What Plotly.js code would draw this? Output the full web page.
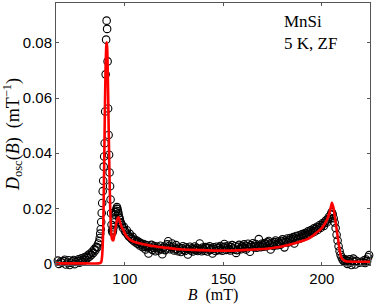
<!DOCTYPE html>
<html><head><meta charset="utf-8">
<script src="https://cdn.plot.ly/plotly-3.0.1.min.js"></script>
<style>html,body{margin:0;padding:0;background:#fff}#chart{width:374px;height:304px}</style>
</head><body><div id="chart"></div>
<script>
// Measured field B (mT)
const dataB = [
65,65.5,66,66.5,67,67.5,68,68.5,69,69.5,70,70.5,71,71.5,72,72.5,73,73.5,74,74.5,75,75.5,76,76.5,77,77.5,78,78.5,79,79.5,
80,80.5,81,81.5,82,82.5,83,83.5,84,84.5,85,85.5,86,86.5,
87,87.25,87.5,87.75,88,88.25,88.5,88.75,89,89.25,89.5,89.75,90,90.25,90.5,90.75,91,91.25,91.5,91.75,
92,92.25,92.5,92.75,93,93.25,93.5,93.75,94,94.25,94.5,94.75,95,95.25,95.5,95.75,96,96.25,96.5,96.75,97,97.25,97.5,97.75,98,
98.5,99,99.5,100,100.5,101,101.5,102,102.5,103,103.5,104,104.5,105,105.5,106,106.5,107,107.5,108,108.5,109,109.5,110,
110.5,111,111.5,112,112.5,113,113.5,114,114.5,115,115.5,116,116.5,117,117.5,118,118.5,119,119.5,120,
120.5,121,121.5,122,122.5,123,123.5,124,124.5,125,125.5,126,126.5,127,127.5,128,128.5,129,129.5,130,
130.5,131,131.5,132,132.5,133,133.5,134,134.5,135,135.5,136,136.5,137,137.5,138,138.5,139,139.5,140,
140.5,141,141.5,142,142.5,143,143.5,144,144.5,145,145.5,146,146.5,147,147.5,148,148.5,149,149.5,150,
150.5,151,151.5,152,152.5,153,153.5,154,154.5,155,155.5,156,156.5,157,157.5,158,158.5,159,159.5,160,
160.5,161,161.5,162,162.5,163,163.5,164,164.5,165,165.5,166,166.5,167,167.5,168,168.5,169,169.5,170,
170.5,171,171.5,172,172.5,173,173.5,174,174.5,175,175.5,176,176.5,177,177.5,178,178.5,179,179.5,180,
180.5,181,181.5,182,182.5,183,183.5,184,184.5,185,185.5,186,186.5,187,187.5,188,188.5,189,189.5,190,
190.5,191,191.5,192,192.5,193,193.5,194,194.5,195,195.5,196,196.5,197,197.5,198,198.5,199,199.5,200,
200.5,201,201.5,202,202.5,203,203.5,204,204.5,205,205.5,206,206.5,207,207.5,208,208.5,209,209.5,210,
210.5,211,211.5,212,212.5,213,213.5,214,214.5,215,215.5,216,216.5,217,217.5,218,218.5,219,219.5,220,
220.5,221,221.5,222,222.5,223,223.5,224,224.5
];
// Measured D_osc(B) (mT^-1)
const dataD = [
0.0004,-0.0008,0.0010,-0.0002,-0.0010,0.0006,0.0002,-0.0012,0.0008,0.0013,-0.0004,-0.0009,0.0003,0.0011,-0.0006,0.0002,-0.0011,0.0007,0.0012,-0.0003,0.0005,-0.0010,0.0009,0.0015,0.0002,0.0010,0.0018,0.0006,0.0014,0.0022,
0.0012,0.0025,0.0019,0.0031,0.0024,0.0036,0.0030,0.0043,0.0038,0.0052,0.0047,0.0060,0.0058,0.0072,
0.0080,0.0092,0.0108,0.0124,0.0150,0.0183,0.0219,0.0262,0.0300,0.0351,0.0388,0.0436,0.0551,0.0686,0.0812,0.0881,0.0851,0.0733,0.0562,0.0466,
0.0394,0.0330,0.0280,0.0232,0.0182,0.0140,0.0119,0.0112,0.0120,0.0131,0.0148,0.0163,0.0177,0.0186,0.0191,0.0198,0.0204,0.0197,0.0189,0.0182,0.0171,0.0165,0.0158,0.0150,0.0146,
0.0139,0.0128,0.0133,0.0118,0.0112,0.0120,0.0104,0.0098,0.0107,0.0092,0.0088,0.0096,0.0081,0.0086,0.0076,0.0083,0.0071,0.0078,0.0065,0.0074,0.0068,0.0059,0.0070,0.0062,
0.0050,0.0066,0.0058,0.0036,0.0061,0.0054,0.0067,0.0049,0.0057,0.0063,0.0044,0.0055,0.0060,0.0047,0.0053,0.0064,0.0050,0.0033,0.0056,0.0061,
0.0048,0.0054,0.0069,0.0080,0.0063,0.0051,0.0058,0.0072,0.0060,0.0047,0.0053,0.0066,0.0052,0.0044,0.0057,0.0050,0.0041,0.0055,0.0062,0.0049,
0.0045,0.0058,0.0053,0.0032,0.0051,0.0060,0.0047,0.0055,0.0043,0.0052,0.0061,0.0048,0.0056,0.0045,0.0053,0.0072,0.0050,0.0044,0.0057,0.0051,
0.0046,0.0059,0.0054,0.0043,0.0056,0.0062,0.0049,0.0053,0.0036,0.0058,0.0052,0.0045,0.0060,0.0055,0.0048,0.0057,0.0063,0.0051,0.0046,0.0058,
0.0070,0.0061,0.0049,0.0056,0.0064,0.0052,0.0047,0.0059,0.0066,0.0054,0.0050,0.0062,0.0038,0.0048,0.0060,0.0067,0.0055,0.0051,0.0063,0.0058,
0.0069,0.0056,0.0050,0.0062,0.0071,0.0059,0.0042,0.0066,0.0060,0.0073,0.0058,0.0063,0.0070,0.0057,0.0065,0.0088,0.0064,0.0059,0.0071,0.0067,
0.0060,0.0074,0.0069,0.0062,0.0076,0.0081,0.0068,0.0050,0.0075,0.0071,0.0063,0.0077,0.0083,0.0070,0.0066,0.0079,0.0074,0.0068,0.0081,0.0087,
0.0075,0.0058,0.0083,0.0078,0.0090,0.0076,0.0085,0.0092,0.0080,0.0088,0.0095,0.0072,0.0091,0.0099,0.0087,0.0094,0.0102,0.0090,0.0098,0.0106,
0.0095,0.0103,0.0110,0.0100,0.0108,0.0116,0.0105,0.0113,0.0121,0.0110,0.0118,0.0127,0.0116,0.0125,0.0133,0.0122,0.0131,0.0139,0.0129,0.0138,
0.0146,0.0136,0.0147,0.0155,0.0148,0.0160,0.0168,0.0162,0.0177,0.0186,0.0179,0.0164,0.0148,0.0128,0.0104,0.0083,0.0062,0.0045,0.0031,0.0022,
0.0014,0.0009,0.0016,0.0004,0.0011,-0.0002,0.0008,0.0015,0.0003,-0.0006,0.0010,0.0017,0.0005,-0.0004,0.0009,-0.0010,-0.0015,0.0002,-0.0008,0.0006,
-0.0012,0.0003,0.0011,0.0001,0.0014,0.0008,0.0022,0.0030,0.0038
];
// Fitted curve
const fitB = [65,80,87,88,88.5,89,89.4,89.8,90.2,90.6,90.86,91.1,91.5,92,92.5,93,93.5,94,94.2,94.6,95.2,95.8,96.4,96.75,97.2,97.8,98.5,99.3,100.5,101.5,102.7,105,108,111,115,120,128,138,150,160,170,175,179,185,190,192.4,195,197,199,201,203,204.3,205.1,205.8,206.6,207.6,208.5,209.3,210,211,212,224.5];
const fitD = [0,0,0,0.0005,0.003,0.012,0.03,0.052,0.07,0.079,0.0802,0.077,0.062,0.04,0.022,0.012,0.0088,0.0083,0.0085,0.0098,0.0125,0.015,0.0164,0.0167,0.0158,0.0143,0.013,0.012,0.0102,0.0093,0.0085,0.0077,0.0072,0.0067,0.0062,0.0057,0.0051,0.0048,0.0046,0.0048,0.0052,0.0056,0.006,0.007,0.0081,0.0087,0.0098,0.011,0.0121,0.0138,0.0165,0.0195,0.022,0.0205,0.017,0.012,0.0075,0.0037,0.002,0.0012,0.0008,0.0006];
const xTicks = [100,150,200];
const yTicks = [0,0.02,0.04,0.06,0.08];
const yTickText = ['0','0.02','0.04','0.06','0.08'];

const traces = [
  {x:dataB, y:dataD, type:'scatter', mode:'markers', cliponaxis:false,
   marker:{symbol:'circle-open', size:7.5, color:'#000', line:{width:1.1, color:'#000'}}, hoverinfo:'skip'},
  {x:fitB, y:fitD, type:'scatter', mode:'lines', line:{color:'#ff0000', width:2.6, shape:'spline', smoothing:0.6}, hoverinfo:'skip'}
];
const axisCommon = {showline:true, mirror:'ticks', linecolor:'#555', linewidth:1, ticks:'inside', ticklen:3, tickcolor:'#555', tickwidth:1, showgrid:false, zeroline:false,
  tickfont:{family:'Liberation Sans, Arial, sans-serif', size:15, color:'#000'}};
const layout = {
  width:374, height:304, margin:{l:56, r:4, t:3, b:39}, showlegend:false,
  paper_bgcolor:'#fff', plot_bgcolor:'#fff',
  xaxis:Object.assign({}, axisCommon, {range:[65.05,224.45], tickvals:xTicks, ticktext:xTicks.map(String),
    title:{text:'<i>B</i>  (mT)', font:{family:'Liberation Serif, serif', size:16, color:'#000'}, standoff:4}}),
  yaxis:Object.assign({}, axisCommon, {range:[-0.0006,0.0945], tickvals:yTicks, ticktext:yTickText,
    title:{text:'<i>D</i><sub>osc</sub>(<i>B</i>)  (mT<sup>−1</sup>)', font:{family:'Liberation Serif, serif', size:18, color:'#000'}, standoff:3}}),
  annotations:[
    {text:'MnSi', xref:'paper', yref:'paper', x:0.719, y:0.931, xanchor:'left', yanchor:'middle', showarrow:false, font:{family:'Liberation Serif, serif', size:17, color:'#000'}},
    {text:'5 K, ZF', xref:'paper', yref:'paper', x:0.719, y:0.845, xanchor:'left', yanchor:'middle', showarrow:false, font:{family:'Liberation Serif, serif', size:17, color:'#000'}}
  ]
};
Plotly.newPlot('chart', traces, layout, {staticPlot:true, displayModeBar:false});
</script></body></html>
